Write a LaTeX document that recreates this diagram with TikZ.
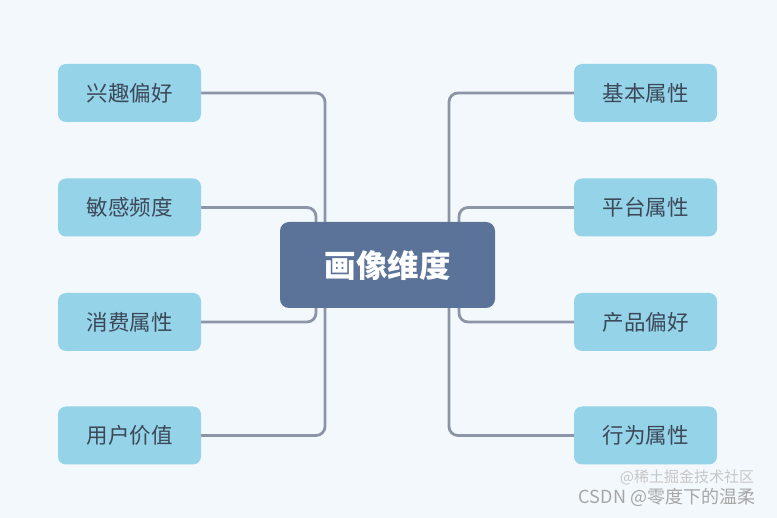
\documentclass[tikz,border=0pt]{standalone}
\usepackage{fontspec}
\setmainfont{Noto Sans CJK SC}
\usetikzlibrary{backgrounds}

\definecolor{pagebg}{HTML}{F3F8FD}
\definecolor{leafblue}{HTML}{95D3E8}
\definecolor{leaftext}{HTML}{3C4858}
\definecolor{rootblue}{HTML}{5B7299}
\definecolor{branchgray}{HTML}{8C95A6}

\begin{document}
\begin{tikzpicture}[
  x=1pt,y=-1pt,
  leaf/.style={fill=leafblue,text=leaftext,rounded corners=8pt,minimum width=143pt,minimum height=58pt,inner sep=0pt,font=\fontsize{21.5}{25}\selectfont},
  root/.style={fill=rootblue,text=white,rounded corners=9pt,minimum width=215pt,minimum height=86pt,inner sep=0pt,font=\fontsize{31.5}{36}\selectfont\bfseries},
  branch/.style={draw=branchgray,line width=2.8pt,rounded corners=9pt},
  mark text/.style={text=gray!70,font=\fontsize{18}{20}\selectfont,inner sep=0pt}
]
  \useasboundingbox (0,0) rectangle (777,518);

  \node[root] (dim) at (387.5,265) {画像维度};

  % left side
  \node[leaf] (l1) at (129.5,93) {兴趣偏好};
  \node[leaf] (l2) at (129.5,207.5) {敏感频度};
  \node[leaf] (l3) at (129.5,322) {消费属性};
  \node[leaf] (l4) at (129.5,435.5) {用户价值};

  % right side
  \node[leaf] (r1) at (645.5,93) {基本属性};
  \node[leaf] (r2) at (645.5,207.5) {平台属性};
  \node[leaf] (r3) at (645.5,322) {产品偏好};
  \node[leaf] (r4) at (645.5,435.5) {行为属性};

  \coordinate (lout) at (325,265);
  \coordinate (lin) at (316,265);
  \coordinate (rout) at (449,265);
  \coordinate (rin) at (459,265);

  \node[mark text,text=gray!45,font=\fontsize{15}{17}\selectfont] (mark2) at (687,477) {@稀土掘金技术社区};
  \node[mark text] (mark1) at (667,497) {CSDN @零度下的温柔};

  \begin{scope}[on background layer]
    \fill[pagebg] (0,0) rectangle (777,518);
    \draw[branch] (l1.east) -| (lout);
    \draw[branch] (l4.east) -| (lout);
    \draw[branch] (l2.east) -| (dim.north -| lin);
    \draw[branch] (l3.east) -| (dim.south -| lin);
    \draw[branch] (r1.west) -| (rout);
    \draw[branch] (r4.west) -| (rout);
    \draw[branch] (r2.west) -| (dim.north -| rin);
    \draw[branch] (r3.west) -| (dim.south -| rin);
  \end{scope}
\end{tikzpicture}
\end{document}
